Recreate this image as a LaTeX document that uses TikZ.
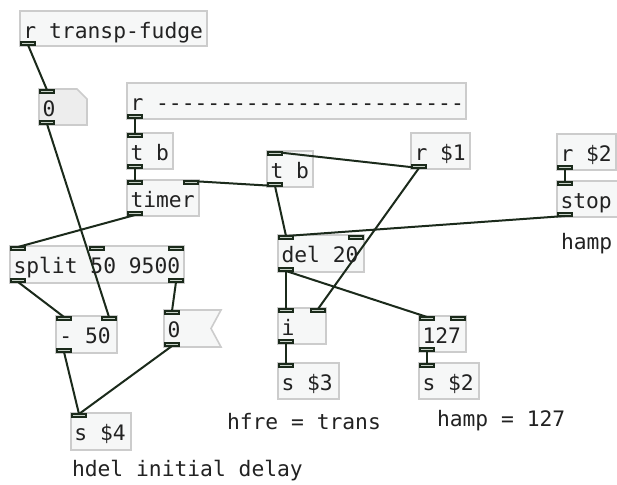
\documentclass[tikz,border=0pt]{standalone}
\usepackage{fontspec}
\setmonofont{DejaVu Sans Mono}
\definecolor{boxfill}{HTML}{F6F7F7}
\definecolor{boxline}{HTML}{CCCCCC}
\definecolor{numfill}{HTML}{EDEDED}
\definecolor{wirecol}{HTML}{1B2A1B}
\definecolor{portfill}{HTML}{C8D2C8}
\definecolor{ink}{HTML}{222222}
\pgfdeclarelayer{bg}
\pgfdeclarelayer{wires}
\pgfsetlayers{bg,wires,main}
\tikzset{
  objbox/.style={fill=boxfill, draw=boxline, line width=0.8pt},
  numbox/.style={fill=numfill, draw=boxline, line width=0.8pt},
  port/.style={draw=wirecol, fill=portfill, line width=1pt, minimum width=7pt, minimum height=1.5pt, inner sep=0pt, outer sep=0pt, rectangle},
  wire/.style={draw=wirecol, line width=1pt},
  pdtext/.style={anchor=base west, inner sep=0pt, outer sep=0pt, text=ink, font=\ttfamily\fontsize{10.65}{12}\selectfont},
}
% name x1 y1 x2 y2 text
\newcommand\pdob[6]{%
  \begin{pgfonlayer}{bg}\path[objbox] (#2,#3) rectangle (#4,#5);\end{pgfonlayer}
  \node[pdtext] (#1) at (#2+3.5,#3+27.5) {#6};}
\newcommand\pdport[3]{\node[port] (#1) at (#2,#3) {};}
\begin{document}
\begin{tikzpicture}[x=0.5pt,y=-0.5pt]
\useasboundingbox (0,0) rectangle (617,485);
\begin{pgfonlayer}{bg}
\fill[white] (0,0) rectangle (617,485);
\end{pgfonlayer}

% boxes
\pdob{rtf}{20}{11}{207}{46}{r transp-fudge}
\begin{pgfonlayer}{bg}
  \path[numbox] (39,89) -- (77,89) -- (87,99) -- (87,125) -- (39,125) -- cycle;
  \path[objbox] (164,310) -- (221,310) -- (211,328.5) -- (221,347) -- (164,347) -- cycle;
\end{pgfonlayer}
\node[pdtext] (num0) at (42.5,116.5) {0};
\node[pdtext] (msg0) at (167.5,337.5) {0};
\pdob{rdash}{127}{83}{466}{119}{r ------------------------}
\pdob{tb1}{127}{133}{173}{169}{t b}
\pdob{timer}{127}{180}{199}{216}{timer}
\pdob{tb2}{267}{151}{313}{187}{t b}
\pdob{r1}{411}{133}{470}{169}{r \$1}
\pdob{r2}{557}{134}{616}{170}{r \$2}
\begin{pgfonlayer}{bg}\path[objbox] (557,181) rectangle (640,217);\end{pgfonlayer}
\node[pdtext] (stop) at (560.5,208.5) {stop};
\pdob{split}{10}{246}{184}{283}{split 50 9500}
\pdob{minus}{56}{316}{117}{353}{- 50}
\pdob{s4}{71}{413}{131}{450}{s \$4}
\pdob{del}{278}{235}{364}{272}{del 20}
\pdob{ibox}{278}{308}{326}{344}{i}
\pdob{s3}{278}{363}{339}{399}{s \$3}
\pdob{n127}{419}{316}{466}{352}{127}
\pdob{s2}{419}{363}{479}{399}{s \$2}

% comments
\node[pdtext] (c1) at (561,250) {hamp};
\node[pdtext] (c2) at (72,477) {hdel initial delay};
\node[pdtext] (c3) at (227,430) {hfre = trans};
\node[pdtext] (c4) at (437,427) {hamp = 127};

% ports
\pdport{rtfo}{28}{43.5}
\pdport{n0i}{47}{91.5}
\pdport{n0o}{47}{122.5}
\pdport{rdo}{135}{116.5}
\pdport{tb1i}{135}{135.5}
\pdport{tb1o}{135}{166.5}
\pdport{tmi}{135}{182.5}
\pdport{tmi2}{191}{182.5}
\pdport{tmo}{135}{213.5}
\pdport{tb2i}{275}{153.5}
\pdport{tb2o}{275}{184.5}
\pdport{r1o}{419}{166.5}
\pdport{r2o}{565}{167.5}
\pdport{stpi}{565}{183.5}
\pdport{stpo}{565}{214.5}
\pdport{spi1}{18}{248.5}
\pdport{spi2}{96.5}{248.5}
\pdport{spi3}{176}{248.5}
\pdport{spo1}{18}{280.5}
\pdport{spo2}{176}{280.5}
\pdport{mi1}{64}{318.5}
\pdport{mi2}{109}{318.5}
\pdport{mo}{64}{350.5}
\pdport{m0i}{172}{312.5}
\pdport{m0o}{172}{344.5}
\pdport{s4i}{79}{415.5}
\pdport{di1}{286}{237.5}
\pdport{di2}{356}{237.5}
\pdport{dlo}{286}{269.5}
\pdport{ii1}{286}{310.5}
\pdport{ii2}{318}{310.5}
\pdport{io}{286}{341.5}
\pdport{s3i}{286}{365.5}
\pdport{ni1}{427}{318.5}
\pdport{ni2}{458}{318.5}
\pdport{no}{427}{349.5}
\pdport{s2i}{427}{365.5}

% wires
\begin{pgfonlayer}{wires}
\draw[wire] (rtfo.south) -- (n0i.north);
\draw[wire] (n0o.south) -- (mi2.north);
\draw[wire] (rdo.south) -- (tb1i.north);
\draw[wire] (tb1o.south) -- (tmi.north);
\draw[wire] (tmo.south) -- (spi1.north);
\draw[wire] (tb2o.south) -- (tmi2.north);
\draw[wire] (r1o.south) -- (tb2i.north);
\draw[wire] (tb2o.south) -- (di1.north);
\draw[wire] (r1o.south) -- (ii2.north);
\draw[wire] (stpo.south) -- (di1.north);
\draw[wire] (dlo.south) -- (ii1.north);
\draw[wire] (dlo.south) -- (ni1.north);
\draw[wire] (io.south) -- (s3i.north);
\draw[wire] (no.south) -- (s2i.north);
\draw[wire] (r2o.south) -- (stpi.north);
\draw[wire] (spo1.south) -- (mi1.north);
\draw[wire] (spo2.south) -- (m0i.north);
\draw[wire] (mo.south) -- (s4i.north);
\draw[wire] (m0o.south) -- (s4i.north);
\end{pgfonlayer}
\end{tikzpicture}
\end{document}
